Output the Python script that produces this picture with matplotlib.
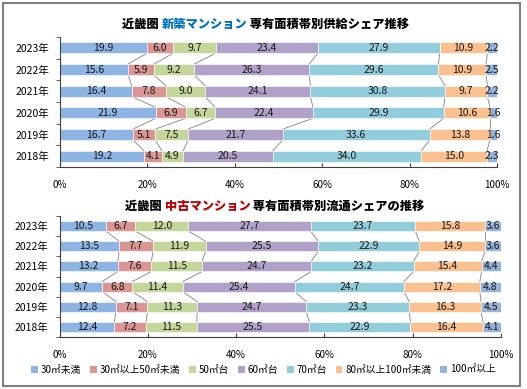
import numpy as np
import matplotlib
matplotlib.use('agg')
import matplotlib.pyplot as plt
from matplotlib.patches import Rectangle, Patch

plt.rcParams['font.family'] = ['Noto Sans CJK JP', 'DejaVu Sans']

years = ['2023年', '2022年', '2021年', '2020年', '2019年', '2018年']
series_names = ['30㎡未満', '30㎡以上50㎡未満', '50㎡台', '60㎡台', '70㎡台',
                '80㎡以上100㎡未満', '100㎡以上']
colors = ['#8DB4E2', '#DA9694', '#C4D79B', '#B1A0C7', '#92CDDC', '#FAC090', '#95B3D7']
x_ticks = [0, 20, 40, 60, 80, 100]
x_tick_labels = ['0%', '20%', '40%', '60%', '80%', '100%']

# 新築 (rows follow years, columns follow series_names)
shin = np.array([
    [19.9, 6.0, 9.7, 23.4, 27.9, 10.9, 2.2],
    [15.6, 5.9, 9.2, 26.3, 29.6, 10.9, 2.5],
    [16.4, 7.8, 9.0, 24.1, 30.8, 9.7, 2.2],
    [21.9, 6.9, 6.7, 22.4, 29.9, 10.6, 1.6],
    [16.7, 5.1, 7.5, 21.7, 33.6, 13.8, 1.6],
    [19.2, 4.1, 4.9, 20.5, 34.0, 15.0, 2.3],
])
# 中古
chuko = np.array([
    [10.5, 6.7, 12.0, 27.7, 23.7, 15.8, 3.6],
    [13.5, 7.7, 11.9, 25.5, 22.9, 14.9, 3.6],
    [13.2, 7.6, 11.5, 24.7, 23.2, 15.4, 4.4],
    [9.7, 6.8, 11.4, 25.4, 24.7, 17.2, 4.8],
    [12.8, 7.1, 11.3, 24.7, 23.3, 16.3, 4.5],
    [12.4, 7.2, 11.5, 25.5, 22.9, 16.4, 4.1],
])

W, H = 527, 389
fig = plt.figure(figsize=(W / 100, H / 100), dpi=100)
fig.patches.append(Rectangle((3 / W, 3 / H), 517 / W, 383 / H, transform=fig.transFigure,
                             fill=False, edgecolor='#7F7F7F', linewidth=1.5))


def stacked(ax, data):
    pct = data / data.sum(axis=1, keepdims=True) * 100
    y = np.arange(len(years))
    h = 0.5
    left = np.zeros(len(years))
    for k in range(pct.shape[1]):
        ax.barh(y, pct[:, k], left=left, height=h, color=colors[k], edgecolor='white',
                linewidth=0.4, zorder=2)
        for i in range(len(years)):
            ax.text(left[i] + pct[i, k] / 2, y[i], f'{data[i, k]:.1f}', ha='center',
                    va='center', fontsize=7.5, color='#1a1a1a', zorder=4)
        left = left + pct[:, k]
    # series lines
    cum = np.cumsum(pct, axis=1)
    for i in range(len(years) - 1):
        for k in range(pct.shape[1]):
            ax.plot([cum[i, k], cum[i + 1, k]], [y[i] + h / 2, y[i + 1] - h / 2],
                    color='#808080', linewidth=0.6, zorder=1)
    ax.set_xlim(0, 100)
    ax.set_ylim(len(years) - 0.5, -0.5)
    ax.set_yticks(y)
    ax.set_yticklabels(years, fontsize=7.5)
    ax.set_yticks(np.arange(-0.5, len(years), 1), minor=True)
    ax.tick_params(axis='y', which='major', length=0, pad=8)
    ax.tick_params(axis='y', which='minor', length=3, direction='out', color='#404040')
    ax.set_xticks(x_ticks)
    ax.set_xticklabels(x_tick_labels, fontsize=7)
    ax.tick_params(axis='x', length=3, direction='in', color='#404040', pad=9)
    for s in ['top', 'right']:
        ax.spines[s].set_visible(False)
    for s in ['left', 'bottom']:
        ax.spines[s].set_color('#404040')
        ax.spines[s].set_linewidth(0.8)


def chain_title(x_px, y_px, parts):
    last = fig.text(x_px / W, 1 - y_px / H, parts[0][0], color=parts[0][1], fontsize=8.8,
                    fontweight='heavy', va='center', ha='left')
    for s, c in parts[1:]:
        last = fig.get_axes()[0].annotate(s, xy=(1, 0.5), xycoords=last, color=c,
                                          fontsize=8.8, fontweight='heavy', va='center',
                                          ha='left', annotation_clip=False)


ax1 = fig.add_axes([60 / W, 1 - 167 / H, 437 / W, 130 / H])
stacked(ax1, shin)
ax2 = fig.add_axes([59.5 / W, 1 - 337 / H, 441.5 / W, 121 / H])
stacked(ax2, chuko)

chain_title(122, 24, [('近畿圏 ', 'black'), ('新築マンション', '#0070C0'),
                      (' 専有面積帯別供給シェア推移', 'black')])
chain_title(125, 206, [('近畿圏 ', 'black'), ('中古マンション', '#C00000'),
                       (' 専有面積帯別流通シェアの推移', 'black')])

handles = [Patch(facecolor=c) for c in colors]
fig.legend(handles, series_names, loc='center', bbox_to_anchor=(0.5, 1 - 370 / H), ncol=7,
           frameon=False, fontsize=7, handlelength=0.7, handleheight=0.7,
           handletextpad=0.3, columnspacing=0.9)

fig.savefig('out.png', dpi=100)
